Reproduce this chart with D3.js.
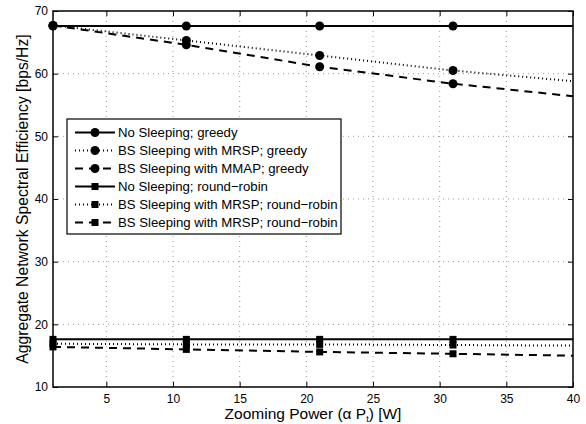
<!DOCTYPE html>
<html>
<head>
<meta charset="utf-8">
<script src="https://cdn.jsdelivr.net/npm/d3@7"></script>
<style>
  body { margin: 0; background: #fff; }
  text { font-family: "Liberation Sans", Arial, Helvetica, sans-serif; fill: #000; }
</style>
</head>
<body>
<svg id="chart" width="586" height="424"></svg>
<script>
// data
var xPts = [1, 11, 21, 31, 40];
var markerPts = [1, 11, 21, 31];
var noSleepGreedy = [67.6, 67.6, 67.6, 67.6, 67.6];
var mrspGreedy = [67.7, 65.3, 62.9, 60.5, 58.8];
var mmapGreedy = [67.7, 64.6, 61.1, 58.4, 56.4];
var noSleepRR = [17.6, 17.6, 17.6, 17.6, 17.6];
var mrspRR = [16.9, 16.8, 16.8, 16.7, 16.6];
var mrspRR2 = [16.4, 16.0, 15.6, 15.3, 15.0];

var xTicks = [5, 10, 15, 20, 25, 30, 35, 40];
var yTicks = [10, 20, 30, 40, 50, 60, 70];

var series = [
  {name: "No Sleeping; greedy", vals: noSleepGreedy, dash: null, mark: "circle"},
  {name: "BS Sleeping with MRSP; greedy", vals: mrspGreedy, dash: "1,3", mark: "circle"},
  {name: "BS Sleeping with MMAP; greedy", vals: mmapGreedy, dash: "8,6", mark: "circle"},
  {name: "No Sleeping; round\u2212robin", vals: noSleepRR, dash: null, mark: "square"},
  {name: "BS Sleeping with MRSP; round\u2212robin", vals: mrspRR, dash: "1,3", mark: "square"},
  {name: "BS Sleeping with MRSP; round\u2212robin", vals: mrspRR2, dash: "8,6", mark: "square"}
];

var svg = d3.select("#chart");
var L = 53, R = 573, T = 11, B = 387;

var x = d3.scaleLinear().domain([1, 40]).range([L, R]);
var y = d3.scaleLinear().domain([10, 70]).range([B, T]);

// grid
var grid = svg.append("g");
grid.selectAll(".gx").data(xTicks.filter(function(d){ return d < 40; })).enter().append("line")
  .attr("x1", function(d){ return x(d); }).attr("x2", function(d){ return x(d); })
  .attr("y1", T).attr("y2", B)
  .attr("stroke", "#999").attr("stroke-width", 1).attr("stroke-dasharray", "1,4");
grid.selectAll(".gy").data(yTicks.filter(function(d){ return d > 10 && d < 70; })).enter().append("line")
  .attr("x1", L).attr("x2", R)
  .attr("y1", function(d){ return y(d); }).attr("y2", function(d){ return y(d); })
  .attr("stroke", "#999").attr("stroke-width", 1).attr("stroke-dasharray", "1,4");

// axes (ticks inward, mirrored)
function styleAxis(g) {
  g.select(".domain").remove();
  g.selectAll(".tick line").attr("stroke", "#000");
  g.selectAll(".tick text").style("font-size", "12px").attr("fill", "#000");
}
svg.append("g").attr("transform", "translate(0," + B + ")")
  .call(d3.axisBottom(x).tickValues(xTicks).tickSizeInner(-5).tickSizeOuter(0).tickPadding(7))
  .call(styleAxis);
svg.append("g").attr("transform", "translate(0," + T + ")")
  .call(d3.axisTop(x).tickValues(xTicks).tickSizeInner(-5).tickSizeOuter(0).tickFormat(""))
  .call(styleAxis);
svg.append("g").attr("transform", "translate(" + L + ",0)")
  .call(d3.axisLeft(y).tickValues(yTicks).tickSizeInner(-5).tickSizeOuter(0).tickPadding(5))
  .call(styleAxis);
svg.append("g").attr("transform", "translate(" + R + ",0)")
  .call(d3.axisRight(y).tickValues(yTicks).tickSizeInner(-5).tickSizeOuter(0).tickFormat(""))
  .call(styleAxis);

svg.append("rect").attr("x", L).attr("y", T).attr("width", R - L).attr("height", B - T)
  .attr("fill", "none").attr("stroke", "#000").attr("stroke-width", 1.5);

// lines
var line = d3.line().x(function(d){ return x(d[0]); }).y(function(d){ return y(d[1]); });
series.forEach(function(s) {
  var pts = xPts.map(function(xv, i){ return [xv, s.vals[i]]; });
  svg.append("path").datum(pts).attr("d", line)
    .attr("fill", "none").attr("stroke", "#000").attr("stroke-width", 2)
    .attr("stroke-dasharray", s.dash);
});

// markers
series.forEach(function(s) {
  var pts = markerPts.map(function(xv){ return [xv, s.vals[xPts.indexOf(xv)]]; });
  if (s.mark === "circle") {
    svg.selectAll(null).data(pts).enter().append("circle")
      .attr("cx", function(d){ return x(d[0]); }).attr("cy", function(d){ return y(d[1]); })
      .attr("r", 4.5).attr("fill", "#000");
  } else {
    svg.selectAll(null).data(pts).enter().append("rect")
      .attr("x", function(d){ return x(d[0]) - 3.5; }).attr("y", function(d){ return y(d[1]) - 3.5; })
      .attr("width", 7).attr("height", 7).attr("fill", "#000");
  }
});

// legend
var lg = svg.append("g").attr("transform", "translate(67,119)");
lg.append("rect").attr("width", 274).attr("height", 115)
  .attr("fill", "#fff").attr("stroke", "#000").attr("stroke-width", 1.2);
series.forEach(function(s, i) {
  var yy = 13.5 + i * 18;
  lg.append("line").attr("x1", 8).attr("x2", 48).attr("y1", yy).attr("y2", yy)
    .attr("stroke", "#000").attr("stroke-width", 2).attr("stroke-dasharray", s.dash);
  if (s.mark === "circle") {
    lg.append("circle").attr("cx", 28).attr("cy", yy).attr("r", 4.5).attr("fill", "#000");
  } else {
    lg.append("rect").attr("x", 24.5).attr("y", yy - 3.5).attr("width", 7).attr("height", 7).attr("fill", "#000");
  }
  lg.append("text").attr("x", 51).attr("y", yy + 4.5).style("font-size", "13.2px").text(s.name);
});

// axis labels
var xl = svg.append("text").attr("x", (L + R) / 2).attr("y", 419)
  .attr("text-anchor", "middle").style("font-size", "15.5px");
xl.append("tspan").text("Zooming Power (\u03b1 P");
xl.append("tspan").attr("dy", 3).style("font-size", "9px").text("t");
xl.append("tspan").attr("dy", -3).text(") [W]");

svg.append("text").attr("transform", "translate(28," + ((T + B) / 2) + ") rotate(-90)")
  .attr("text-anchor", "middle").style("font-size", "15.7px")
  .text("Aggregate Network Spectral Efficiency [bps/Hz]");
</script>
</body>
</html>
